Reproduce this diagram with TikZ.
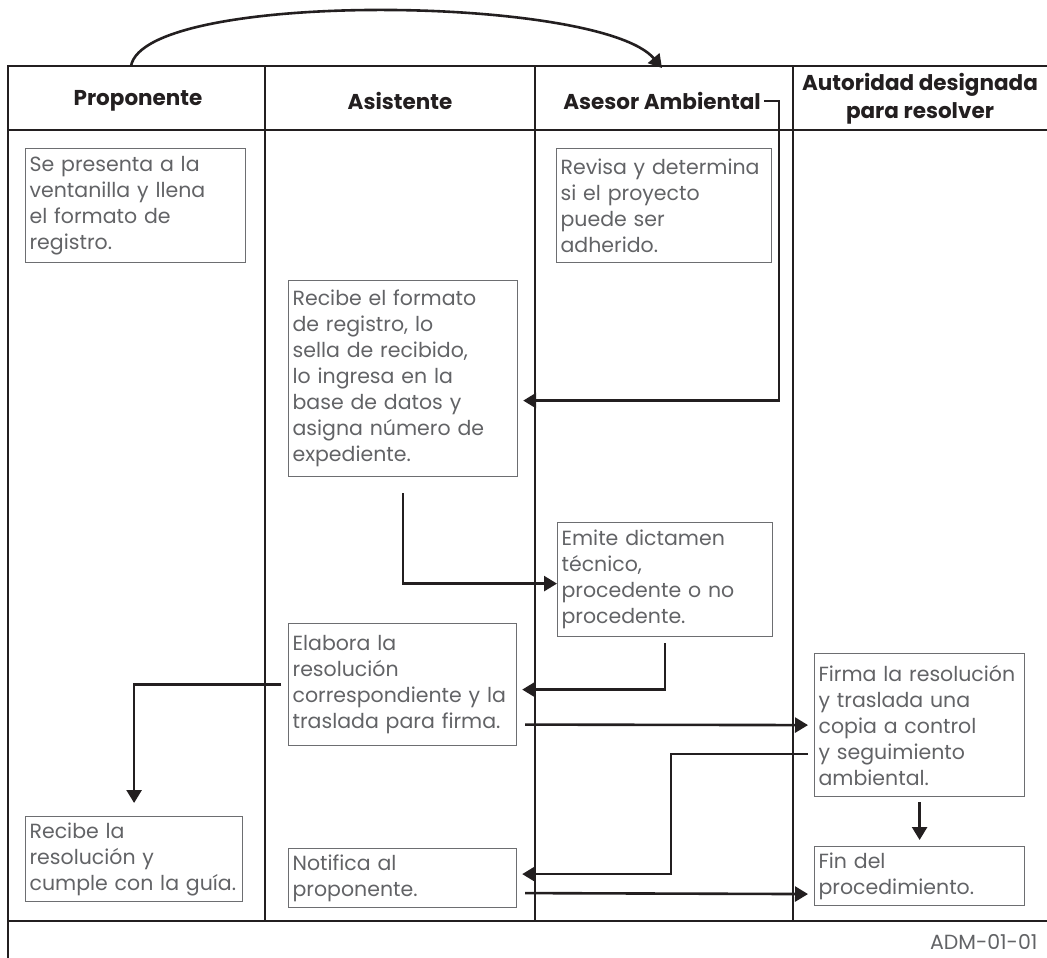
\documentclass[tikz,border=0pt]{standalone}
\usepackage{fontspec}
\setmainfont{Poppins}
\usetikzlibrary{positioning, arrows.meta, calc}
\definecolor{ink}{HTML}{231F20}
\definecolor{boxgray}{HTML}{6D6E71}
\definecolor{txtgray}{HTML}{626366}

\begin{document}
\begin{tikzpicture}[x=1pt, y=-1pt, >={Triangle[length=13pt,width=15pt]},
  lane/.style={draw=ink, line width=2.8pt},
  flow/.style={->, draw=ink, line width=2.6pt},
  head/.style={text=ink, align=center, font=\fontsize{21.5}{28}\selectfont\bfseries},
  task/.style={draw=boxgray, line width=1.2pt, anchor=north west, align=left,
    text=txtgray, inner xsep=4pt, inner ysep=6pt, font=\fontsize{20.5}{26}\selectfont}]
\useasboundingbox (0,0) rectangle (1047,958);

\draw[lane] (8,958) -- (8,66) -- (1047,66);
\draw[lane] (8,130) -- (1047,130);
\draw[lane] (8,921) -- (1047,921);
\foreach \x in {265,535,793}
  \draw[lane] (\x,66) -- (\x,921);

\node[head] (hprop) at (138,101) {Proponente};
\node[head] (hasis) at (400,101) {Asistente};
\node[head] (hases) at (662,101) {Asesor Ambiental};
\node[head] (haut) at (920,99) {Autoridad designada\\para resolver};

\node[task, text width=212pt, minimum height=114pt] (presenta) at (25,148)
  {Se presenta a la\\ventanilla y llena\\el formato de\\registro.};
\node[task, text width=207pt, minimum height=114pt] (revisa) at (556,148)
  {Revisa y determina\\si el proyecto\\puede ser\\adherido.};
\node[task, text width=221pt, minimum height=196pt] (recibe) at (288,280)
  {Recibe el formato\\de registro, lo\\sella de recibido,\\lo ingresa en la\\base de datos y\\asigna número de\\expediente.};
\node[task, text width=207pt, minimum height=114pt] (emite) at (557,522)
  {Emite dictamen\\técnico,\\procedente o no\\procedente.};
\node[task, text width=220pt, minimum height=122pt] (elabora) at (288,623)
  {Elabora la\\resolución\\correspondiente y la\\traslada para firma.};
\node[task, text width=202pt, minimum height=143pt] (firma) at (814,653)
  {Firma la resolución\\y traslada una\\copia a control\\y seguimiento\\ambiental.};
\node[task, text width=209pt, minimum height=85pt] (recibela) at (25,816)
  {Recibe la\\resolución y\\cumple con la guía.};
\node[task, text width=220pt, minimum height=58pt] (notifica) at (288,848)
  {Notifica al\\proponente.};
\node[task, text width=202pt, minimum height=55pt] (fin) at (814,846)
  {Fin del\\procedimiento.};

\node[anchor=east, text=txtgray, font=\fontsize{20.5}{24}\selectfont] (codigo) at (1041,942) {ADM-01-01};

\coordinate (cs) at (131,66);
\coordinate (ce) at (662,68);
\coordinate (asx) at (779,0);
\draw[flow] (cs) .. controls (145,-10) and (600,-5) .. (ce);
\draw[flow] (hases.east) -- (hases.east -| asx) |- ([xshift=5pt,yshift=-22pt]recibe.east);
\draw[flow] ([yshift=-16pt]recibe.south) |- ([yshift=-4pt]emite.west);
\draw[flow] ([yshift=-6pt]emite.south) |- ([xshift=5pt,yshift=-5pt]elabora.east);
\draw[flow] ([xshift=-7pt]elabora.west) -| ([yshift=13pt]recibela.north);
\draw[flow] ([xshift=8pt,yshift=-40pt]elabora.east) -- ([xshift=-6pt]firma.west);
\draw[flow] ([xshift=-6pt,yshift=-29pt]firma.west) -- ++(-137,0) |- ([xshift=5pt,yshift=4pt]notifica.east);
\draw[flow] ([yshift=-5pt]firma.south) -- ([yshift=6pt]fin.north);
\draw[flow] ([xshift=8pt,yshift=-15pt]notifica.east) -- ([xshift=-6pt,yshift=-18pt]fin.west);
\end{tikzpicture}
\end{document}
